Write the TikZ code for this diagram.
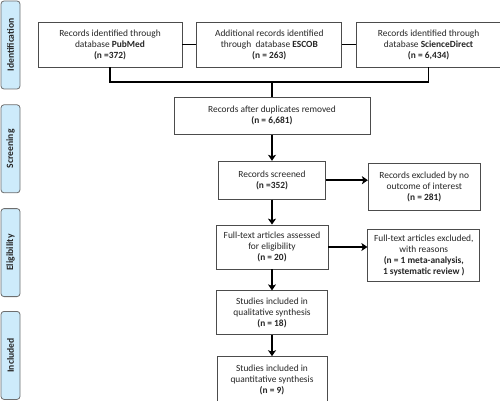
\documentclass[tikz,border=0pt]{standalone}
\usepackage{fontspec}
\setmainfont{Carlito}
\usepackage{tikz}
\usetikzlibrary{positioning,arrows.meta}

\definecolor{tabblue}{HTML}{CDEBFB}
\definecolor{tabedge}{HTML}{6E6E6E}

\begin{document}
\begin{tikzpicture}[x=1pt,y=-1pt,
	box/.style={draw=black!70, line width=0.8pt, fill=white, align=center, inner sep=1pt,
		text=black!85, font=\fontsize{9.4}{11}\selectfont},
	tab/.style={draw=tabedge, line width=0.8pt, fill=tabblue, rounded corners=3pt, inner sep=0pt,
		minimum width=19pt, minimum height=88pt, text=black!85, font=\fontsize{9.6}{10}\selectfont\bfseries},
	link/.style={line width=1.6pt},
	flow/.style={line width=1.6pt, -{Stealth[length=6pt,width=8pt,inset=1.5pt]}}]
	\useasboundingbox (0,0) rectangle (500,401);

	\node(Id) [tab] at (10.5,45) {\rotatebox{90}{Identification}};
	\node(Sc) [tab, below=15pt of Id] {\rotatebox{90}{Screening}};
	\node(El) [tab, below=15pt of Sc] {\rotatebox{90}{Eligibility}};
	\node(In) [tab, below=14pt of El] {\rotatebox{90}{Included}};

	\node(PM) [box, minimum width=144pt, minimum height=45pt] at (110,44.5)
		{Records identified through\\database \textbf{PubMed}\\\textbf{(n =372)}};
	\node(ES) [box, minimum width=145pt, minimum height=45pt, right=14pt of PM]
		{Additional records identified\\through \ database \textbf{ESCOB}\\\textbf{(n = 263)}};
	\node(SD) [box, minimum width=144pt, minimum height=45pt, right=14pt of ES]
		{Records identified through\\database \textbf{ScienceDirect}\\\textbf{(n = 6,434)}};

	\coordinate(J) at (272,82);
	\node(Dup) [box, minimum width=196pt, minimum height=37pt, below=15pt of J]
		{Records after duplicates removed\\\textbf{(n = 6,681)}};
	\node(Scr) [box, minimum width=107pt, minimum height=38pt, below=26pt of Dup]
		{Records screened\\\textbf{(n =352)}};
	\node(Exc) [box, minimum width=112pt, minimum height=47pt, right=42pt of Scr, yshift=-6.5pt]
		{Records excluded by no\\outcome of interest\\\textbf{(n = 281)}};
	\node(FT) [box, minimum width=112pt, minimum height=44pt, below=25pt of Scr]
		{Full-text articles assessed\\for eligibility\\\textbf{(n = 20)}};
	\node(FTx) [box, minimum width=112pt, minimum height=52pt, right=39pt of FT, yshift=-8pt]
		{Full-text articles excluded,\\with reasons\\\textbf{(n = 1 meta-analysis,}\\\textbf{1 systematic review )}};
	\node(Qual) [box, minimum width=111pt, minimum height=44pt, below=21pt of FT]
		{Studies included in\\qualitative synthesis\\\textbf{(n = 18)}};
	\node(Quant) [box, minimum width=110pt, minimum height=47pt, below=21pt of Qual]
		{Studies included in\\quantitative synthesis\\\textbf{(n = 9)}};

	\draw[link](PM) -- (ES);
	\draw[link](ES) -- (SD);
	\draw[link](PM.south) |- (J) -| (SD.south);
	\draw[link](J) -- (Dup);
	\draw[flow](Dup) -- (Scr);
	\draw[flow](Scr.east) -- (Scr.east -| Exc.west);
	\draw[flow](Scr) -- (FT);
	\draw[flow](FT.east) -- (FT.east -| FTx.west);
	\draw[flow](FT) -- (Qual);
	\draw[flow](Qual) -- (Quant);

	\end{tikzpicture}
\end{document}
